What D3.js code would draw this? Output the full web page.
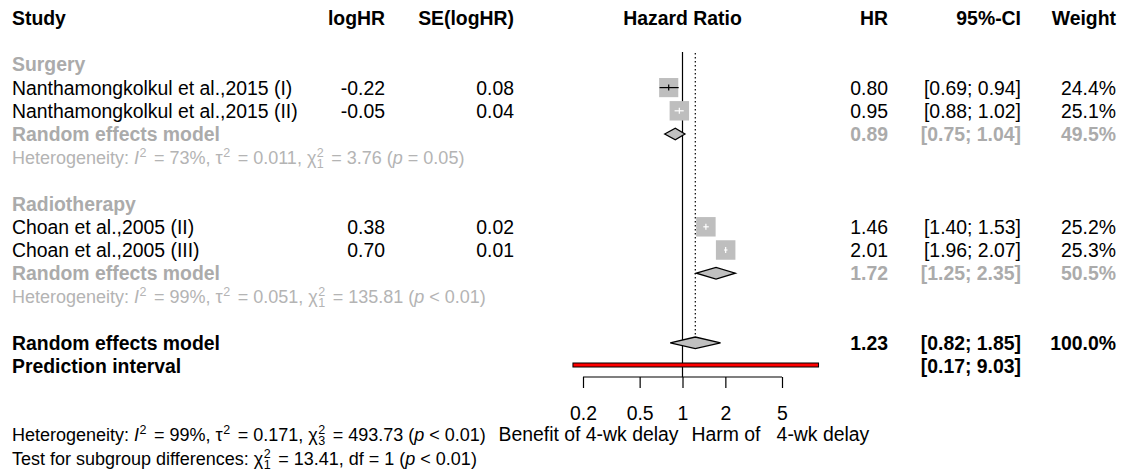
<!DOCTYPE html>
<html>
<head>
<meta charset="utf-8">
<script src="https://cdn.jsdelivr.net/npm/d3@7"></script>
<style>
  body { margin: 0; background: #fff; }
  svg text { font-family: "Liberation Sans", Arial, sans-serif; font-size: 19.4px; }
</style>
</head>
<body>
<svg id="chart" width="1126" height="472"></svg>
<script>
// data
var subgroupNames = ["Surgery", "Radiotherapy"];
var studyLabels = [
  "Nanthamongkolkul et al.,2015 (I)",
  "Nanthamongkolkul et al.,2015 (II)",
  "Choan et al.,2005 (II)",
  "Choan et al.,2005 (III)"
];
var studyGroup = [0, 0, 1, 1];
var logHR = [-0.22, -0.05, 0.38, 0.70];
var seLogHR = [0.08, 0.04, 0.02, 0.01];
var hr = [0.80, 0.95, 1.46, 2.01];
var ciLower = [0.69, 0.88, 1.40, 1.96];
var ciUpper = [0.94, 1.02, 1.53, 2.07];
var weights = [24.4, 25.1, 25.2, 25.3];

var subgroupHR = [0.89, 1.72];
var subgroupLower = [0.75, 1.25];
var subgroupUpper = [1.04, 2.35];
var subgroupWeight = [49.5, 50.5];
var subgroupI2 = ["73%", "99%"];
var subgroupTau2 = ["0.011", "0.051"];
var subgroupDf = ["1", "1"];
var subgroupQ = ["3.76", "135.81"];
var subgroupP = ["= 0.05", "< 0.01"];

var overallHR = [1.23, 0.82, 1.85];   // estimate, lower, upper
var overallWeight = 100.0;
var predInterval = [0.17, 9.03];
var overallHet = ["99%", "0.171", "3", "493.73", "< 0.01"]; // I2, tau2, df, Q, p
var subgroupTest = ["1", "13.41", "1", "< 0.01"];           // chi df, Q, df, p

var axisTicks = [0.2, 0.5, 1, 2, 5];
var labelLeft = "Benefit of 4-wk delay";
var labelRight = "Harm of   4-wk delay";

var svg = d3.select("#chart");
var gray = "#ababab";
var hetGray = "#b4b4b4";
var fontSize = 19.4, hetSize = 18, supSize = 12.5;

var x = d3.scaleLog().domain([0.2, 5]).range([583, 782]);
var rowY = function (i) { return 18 + 23.2 * i; };
var base = 7; // text baseline offset from row centre

// column right edges
var col = { study: 12, logHR: 385, se: 514, hr: 888, ci: 1021, w: 1116 };
function f2(v) { return v.toFixed(2); }

function text(xp, y, str, opts) {
  opts = opts || {};
  return svg.append("text")
    .attr("x", xp).attr("y", y + base)
    .attr("text-anchor", opts.anchor || "start")
    .attr("font-weight", opts.bold ? "bold" : null)
    .attr("fill", opts.color || "#000")
    .style("white-space", "pre")
    .text(str);
}

function ciText(lo, up) { return "[" + f2(lo) + "; " + f2(up) + "]"; }

// header
text(col.study, rowY(0), "Study", { bold: true });
text(col.logHR, rowY(0), "logHR", { bold: true, anchor: "end" });
text(col.se, rowY(0), "SE(logHR)", { bold: true, anchor: "end" });
text(x(1), rowY(0), "Hazard Ratio", { bold: true, anchor: "middle" });
text(col.hr, rowY(0), "HR", { bold: true, anchor: "end" });
text(col.ci, rowY(0), "95%-CI", { bold: true, anchor: "end" });
text(col.w, rowY(0), "Weight", { bold: true, anchor: "end" });

// reference lines
svg.append("line")
  .attr("x1", x(1)).attr("x2", x(1))
  .attr("y1", 52).attr("y2", 377)
  .attr("stroke", "#000").attr("stroke-width", 1.2);
svg.append("line")
  .attr("x1", x(overallHR[0])).attr("x2", x(overallHR[0]))
  .attr("y1", 53).attr("y2", rowY(14) - 6)
  .attr("stroke", "#000").attr("stroke-width", 1.2)
  .attr("stroke-dasharray", "1.5,2.5");

// stat line with superscript/subscript "2"s; het stats use a smaller font
function statLine(y, color, parts) {
  var t = svg.append("text").attr("x", col.study).attr("y", y + base)
    .attr("fill", color).style("font-size", hetSize + "px").style("white-space", "pre");
  var pendingDy = 0, pendingDx = 0;
  function add(str, opts) {
    var sp = t.append("tspan").text(str);
    if (pendingDy) { sp.attr("dy", pendingDy); pendingDy = 0; }
    if (pendingDx) { sp.attr("dx", pendingDx); pendingDx = 0; }
    if (opts && opts.italic) { sp.attr("font-style", "italic"); }
    if (opts && opts.small) { sp.style("font-size", supSize + "px"); }
    return sp;
  }
  var digitW = supSize * 0.556;
  parts.forEach(function (p) {
    if (p.sub !== undefined) {
      add("2", { small: true }).attr("dy", -7).attr("dx", 0.5);
      add(p.sub, { small: true }).attr("dx", -digitW).attr("dy", 11);
      pendingDy = -4; pendingDx = 2.5;
    } else if (p.sup) {
      add("2", { small: true }).attr("dy", -7).attr("dx", 0.5);
      pendingDy = 7; pendingDx = 2.5;
    } else {
      add(p.s, { italic: p.italic });
    }
  });
  return t;
}

function heterogeneity(y, i2, tau2, df, q, p, color) {
  return statLine(y, color, [
    { s: "Heterogeneity: " }, { s: "I", italic: true }, { sup: true },
    { s: " = " + i2 + ", \u03c4" }, { sup: true },
    { s: " = " + tau2 + ", \u03c7" }, { sub: df },
    { s: " = " + q + " (" }, { s: "p", italic: true }, { s: " " + p + ")" }
  ]);
}

function diamond(est, lo, up, y) {
  var h = 5.8;
  svg.append("path")
    .attr("d", "M" + x(lo) + "," + y + "L" + x(est) + "," + (y - h) +
      "L" + x(up) + "," + y + "L" + x(est) + "," + (y + h) + "Z")
    .attr("fill", "#c0c0c0").attr("stroke", "#000").attr("stroke-width", 1.3);
}

var maxW = d3.max(weights);
var row = 2;
subgroupNames.forEach(function (name, g) {
  text(col.study, rowY(row), name, { bold: true, color: gray });
  row++;
  studyLabels.forEach(function (label, i) {
    if (studyGroup[i] !== g) { return; }
    var y = rowY(row);
    text(col.study, y, label);
    text(col.logHR, y, f2(logHR[i]), { anchor: "end" });
    text(col.se, y, f2(seLogHR[i]), { anchor: "end" });
    text(col.hr, y, f2(hr[i]), { anchor: "end" });
    text(col.ci, y, ciText(ciLower[i], ciUpper[i]), { anchor: "end" });
    text(col.w, y, weights[i].toFixed(1) + "%", { anchor: "end" });

    // box sized by weight
    var s = 19.5 * Math.sqrt(weights[i] / maxW);
    var cx = x(hr[i]);
    svg.append("rect")
      .attr("x", cx - s / 2).attr("y", y - s / 2)
      .attr("width", s).attr("height", s)
      .attr("fill", "#bebebe");
    var inside = x(ciLower[i]) >= cx - s / 2 && x(ciUpper[i]) <= cx + s / 2;
    var lc = inside ? "#fff" : "#000";
    svg.append("line")
      .attr("x1", x(ciLower[i])).attr("x2", x(ciUpper[i]))
      .attr("y1", y).attr("y2", y)
      .attr("stroke", lc).attr("stroke-width", 1.2);
    svg.append("line")
      .attr("x1", cx).attr("x2", cx)
      .attr("y1", y - 3).attr("y2", y + 3)
      .attr("stroke", lc).attr("stroke-width", 1.2);
    row++;
  });

  var y = rowY(row);
  text(col.study, y, "Random effects model", { bold: true, color: gray });
  text(col.hr, y, f2(subgroupHR[g]), { bold: true, anchor: "end", color: gray });
  text(col.ci, y, ciText(subgroupLower[g], subgroupUpper[g]), { bold: true, anchor: "end", color: gray });
  text(col.w, y, subgroupWeight[g].toFixed(1) + "%", { bold: true, anchor: "end", color: gray });
  diamond(subgroupHR[g], subgroupLower[g], subgroupUpper[g], y);
  row++;
  heterogeneity(rowY(row), subgroupI2[g], subgroupTau2[g], subgroupDf[g], subgroupQ[g], subgroupP[g], hetGray);
  row += 2;
});

// overall
var yo = rowY(14);
text(col.study, yo, "Random effects model", { bold: true });
text(col.hr, yo, f2(overallHR[0]), { bold: true, anchor: "end" });
text(col.ci, yo, ciText(overallHR[1], overallHR[2]), { bold: true, anchor: "end" });
text(col.w, yo, overallWeight.toFixed(1) + "%", { bold: true, anchor: "end" });
diamond(overallHR[0], overallHR[1], overallHR[2], yo);

var yp = rowY(15) - 1;
text(col.study, rowY(15), "Prediction interval", { bold: true });
text(col.ci, rowY(15), ciText(predInterval[0], predInterval[1]), { bold: true, anchor: "end" });
svg.append("rect")
  .attr("x", x(predInterval[0])).attr("y", yp - 2)
  .attr("width", x(predInterval[1]) - x(predInterval[0])).attr("height", 4)
  .attr("fill", "#ff0000").attr("stroke", "#000").attr("stroke-width", 1);

// axis
var axis = svg.append("g")
  .attr("transform", "translate(0,377)")
  .call(d3.axisBottom(x).tickValues(axisTicks).tickFormat(d3.format("")).tickSize(11).tickPadding(18));
axis.select(".domain").attr("d", "M" + x(0.2) + ",0H" + x(5)).attr("stroke-width", 1.2);
axis.selectAll(".tick line").attr("y1", 0).attr("y2", 11).attr("stroke-width", 1.2);
axis.selectAll("text")
  .style("font-family", "'Liberation Sans', Arial, sans-serif")
  .style("font-size", fontSize + "px")
  .attr("fill", "#000");

text(x(1) - 4, 434, labelLeft, { anchor: "end" });
text(x(1) + 9, 434, labelRight);

// overall heterogeneity and subgroup test
heterogeneity(434, overallHet[0], overallHet[1], overallHet[2], overallHet[3], overallHet[4], "#000");

statLine(458, "#000", [
  { s: "Test for subgroup differences: \u03c7" }, { sub: subgroupTest[0] },
  { s: " = " + subgroupTest[1] + ", df = " + subgroupTest[2] + " (" },
  { s: "p", italic: true }, { s: " " + subgroupTest[3] + ")" }
]);
</script>
</body>
</html>
